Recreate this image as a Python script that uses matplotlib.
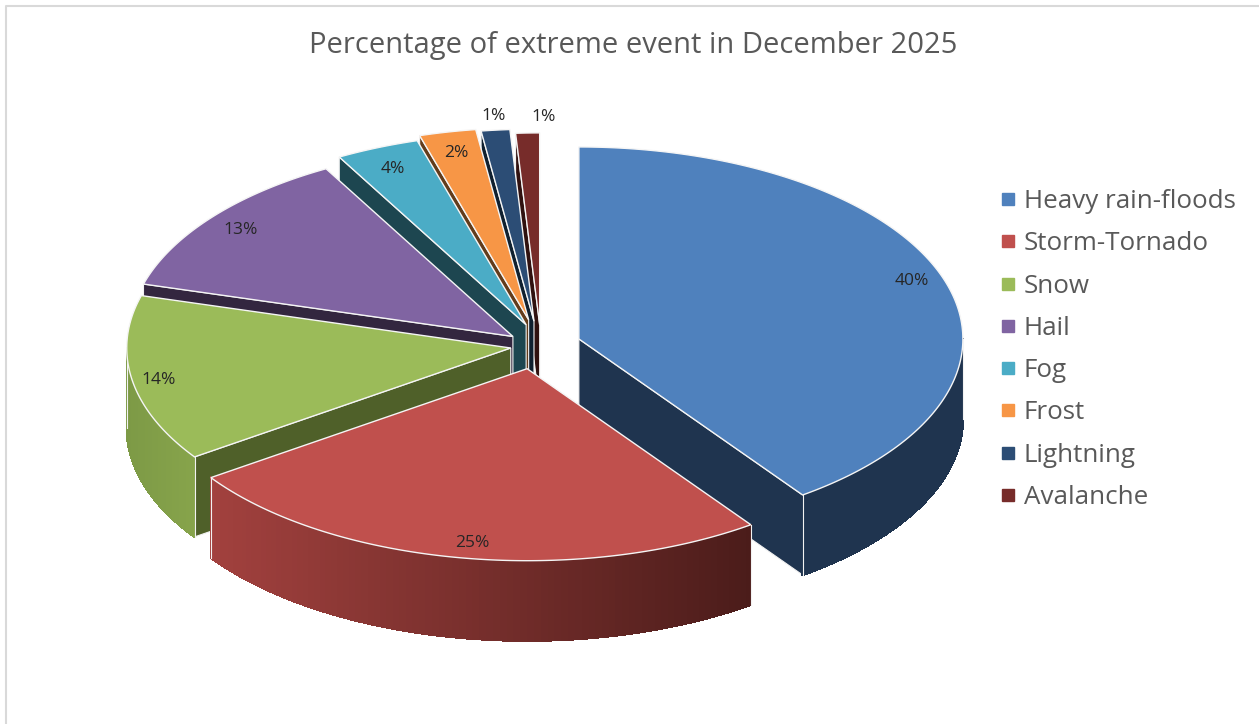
import numpy as np
import matplotlib
matplotlib.use("Agg")
import matplotlib.pyplot as plt
from matplotlib.collections import PolyCollection
from matplotlib.colors import to_rgb
from matplotlib.lines import Line2D

plt.rcParams["font.family"] = ["Open Sans", "DejaVu Sans"]

TITLE = "Percentage of extreme event in December 2025"
CATEGORIES = ["Heavy rain-floods", "Storm-Tornado", "Snow", "Hail", "Fog", "Frost", "Lightning", "Avalanche"]
VALUES = [40.1, 25.3, 14.0, 12.51, 3.51, 2.38, 1.2, 1.0]
EXPLODE = [0.12, 0.12, 0.064, 0.08, 0.12, 0.14, 0.13, 0.11]
# the original has perspective, small sideways nudge for the back slices
SHIFT_X = [0, 0, 0, 2, 9, 5, 4, 6]

TOP_COLORS = ["#4f81bd", "#c0504d", "#9bbb59", "#8064a2", "#4bacc6", "#f79646", "#2c4d75", "#772c2a"]
EDGE_COLORS = ["#1f344f", "#4f1f1d", "#4f6029", "#33263f", "#1d4650", "#633c1b", "#10202f", "#30110f"]
# left and right colour of the shaded outer wall
WALL_LEFT = ["#1f344f", "#a2413e", "#7d9a46", "#33263f", "#1d4650", "#633c1b", "#10202f", "#30110f"]
WALL_RIGHT = ["#1f344f", "#4b1c1a", "#87a44b", "#33263f", "#1d4650", "#633c1b", "#10202f", "#30110f"]

LABEL_R = [0.91, 0.90, 0.93, 0.90, 0.90, 0.90, 1.075, 1.065]
LABEL_DX = [0, 5, 0, -1, 1, 1, 1, 17]
LABEL_DY = [-4, 4, 3, 1, 4, 2, 0, -4]

CENTER_X, CENTER_Y = 535, 346
RX, RY = 384, 192
DEPTH = 80
DRAW_ORDER = [7, 6, 5, 4, 3, 2, 0, 1]


def project(theta, r=1.0):
    t = np.radians(theta)
    return r * RX * np.sin(t), -r * RY * np.cos(t)


def draw_slice(ax, i, start, end, z):
    mid = (start + end) / 2
    ox, oy = project(mid, EXPLODE[i])
    ax0, ay0 = CENTER_X + ox + SHIFT_X[i], CENTER_Y + oy

    arc = np.linspace(start, end, max(int(end - start) * 2, 8))
    px, py = project(arc)
    arc_x, arc_y = ax0 + px, ay0 + py

    # flat walls along the cut edges, only the ones turned to the viewer
    visible = []
    if 180 < start < 360:
        visible.append(0)
    if 0 < end < 180:
        visible.append(-1)
    for k in visible:
        wall = [(ax0, ay0), (arc_x[k], arc_y[k]), (arc_x[k], arc_y[k] + DEPTH), (ax0, ay0 + DEPTH)]
        ax.fill(*zip(*wall), facecolor=EDGE_COLORS[i], edgecolor="#f2f2f2", linewidth=0.8, zorder=z)

    # curved outer wall, only the part facing the viewer
    lo, hi = max(start, 90), min(end, 270)
    if hi > lo:
        front = np.linspace(lo, hi, 90)
        fx, fy = project(front)
        fx, fy = ax0 + fx, ay0 + fy
        polys, cols = [], []
        left, right = np.array(to_rgb(WALL_LEFT[i])), np.array(to_rgb(WALL_RIGHT[i]))
        for j in range(len(front) - 1):
            polys.append([(fx[j], fy[j]), (fx[j + 1], fy[j + 1]), (fx[j + 1], fy[j + 1] + DEPTH), (fx[j], fy[j] + DEPTH)])
            f = ((fx[j] + fx[j + 1]) / 2 - fx.min()) / (fx.max() - fx.min())
            cols.append(left + (right - left) * f)
        ax.add_collection(PolyCollection(polys, facecolors=cols, edgecolors=cols, linewidths=1.0,
                                         antialiaseds=False, zorder=z + 1))
        ax.plot([fx[0], fx[0]], [fy[0], fy[0] + DEPTH], color="#f2f2f2", lw=0.8, zorder=z + 2)
        ax.plot([fx[-1], fx[-1]], [fy[-1], fy[-1] + DEPTH], color="#f2f2f2", lw=0.8, zorder=z + 2)

    ax.fill(np.r_[ax0, arc_x], np.r_[ay0, arc_y], facecolor=TOP_COLORS[i], edgecolor="#f5f5f5",
            linewidth=1.0, joinstyle="miter", zorder=z + 3)

    lx, ly = project(mid, LABEL_R[i])
    ax.text(ax0 + lx + LABEL_DX[i], ay0 + ly + LABEL_DY[i], f"{VALUES[i]:.0f}%", ha="center", va="center",
            fontsize=12.5, color="#262626", zorder=200)


def main():
    fig = plt.figure(figsize=(12.59, 7.24), dpi=100)
    ax = fig.add_axes([0, 0, 1, 1])
    ax.set_xlim(0, 1259)
    ax.set_ylim(724, 0)
    ax.axis("off")

    # chart frame, only left and top show in the crop
    ax.plot([6, 6, 1259], [724, 6, 6], color="#d9d9d9", lw=1.5, zorder=1)

    ends = np.cumsum(VALUES) / sum(VALUES) * 360
    starts = np.r_[0, ends[:-1]]
    for n, i in enumerate(DRAW_ORDER):
        draw_slice(ax, i, starts[i], ends[i], 10 + n * 10)

    ax.text(633, 45, TITLE, ha="center", va="center", fontsize=21, color="#595959")

    handles = [Line2D([], [], linestyle="none", marker="s", markersize=9.2, color=c) for c in TOP_COLORS]
    ax.legend(handles, CATEGORIES, loc="center left", bbox_to_anchor=(998.5 / 1259, 1 - 349.5 / 724),
              frameon=False, fontsize=18.7, labelcolor="#595959", labelspacing=0.664,
              handlelength=0.7, handletextpad=0.27, borderpad=0, borderaxespad=0)

    fig.savefig("out.png", dpi=100)


if __name__ == "__main__":
    main()
